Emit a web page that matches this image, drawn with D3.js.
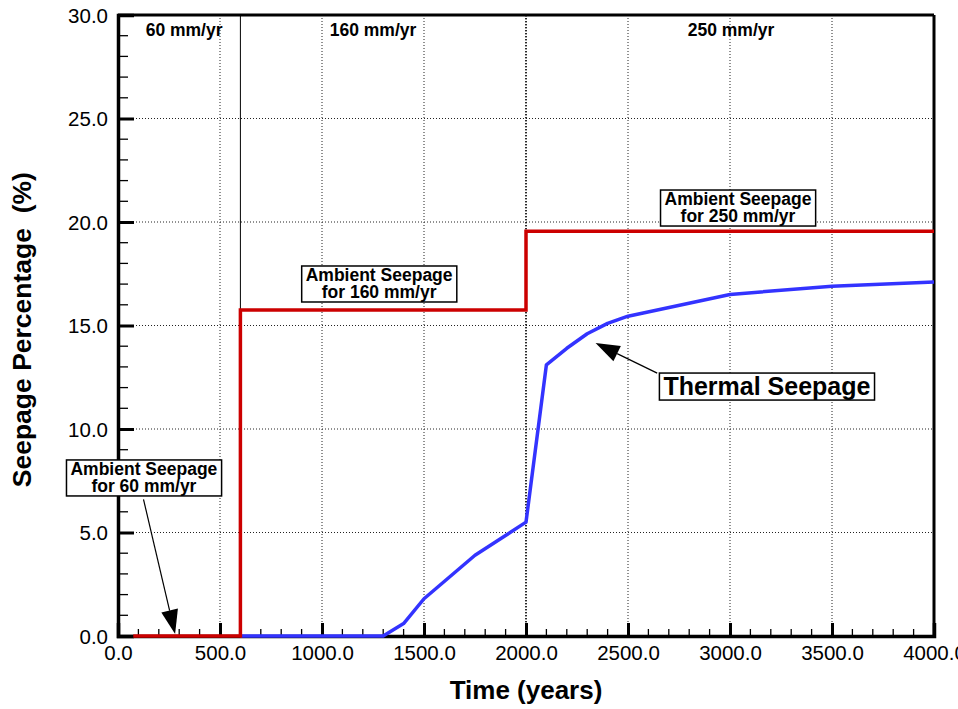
<!DOCTYPE html>
<html>
<head>
<meta charset="utf-8">
<script src="https://cdn.jsdelivr.net/npm/d3@7"></script>
<style>
  body { margin: 0; background: #fff; }
  svg { display: block; font-family: "Liberation Sans", Arial, sans-serif; }
  .tick-label { font-size: 20.5px; fill: #000; }
  .axis-title { font-weight: bold; white-space: pre; }
  .note { font-weight: bold; fill: #000; }
</style>
</head>
<body>
<div id="chart"></div>
<script>
// Data
const ambientTime = [75, 600, 600, 2000, 2000, 4000];
const ambientSeep = [0, 0, 15.75, 15.75, 19.55, 19.55];

const thermalTime = [600, 1300, 1400, 1500, 1750, 2000, 2100, 2200, 2300, 2400, 2500, 3000, 3500, 4000];
const thermalSeep = [0, 0, 0.6, 1.8, 3.9, 5.5, 13.1, 13.9, 14.6, 15.1, 15.45, 16.5, 16.9, 17.1];

const xTicks = [0, 500, 1000, 1500, 2000, 2500, 3000, 3500, 4000];
const yTicks = [0, 5, 10, 15, 20, 25, 30];

const regionNames = ["60 mm/yr", "160 mm/yr", "250 mm/yr"];
const regionCenters = [324, 1250, 3005];
const regionBreaks = [600, 2000];

const width = 958, height = 709;
const margin = { top: 15, right: 24, bottom: 73, left: 118 };
const iw = width - margin.left - margin.right;
const ih = height - margin.top - margin.bottom;

const svg = d3.select("#chart").append("svg")
    .attr("width", width)
    .attr("height", height);

const g = svg.append("g").attr("transform", `translate(${margin.left},${margin.top})`);

const x = d3.scaleLinear().domain([0, 4000]).range([0, iw]);
const y = d3.scaleLinear().domain([0, 30]).range([ih, 0]);

// dotted grid
g.append("g").selectAll("line.vg")
    .data(xTicks.slice(1))
    .join("line")
    .attr("x1", d => x(d)).attr("x2", d => x(d))
    .attr("y1", 0).attr("y2", ih)
    .attr("stroke", "#222").attr("stroke-width", 1)
    .attr("stroke-dasharray", "1,2");

g.append("g").selectAll("line.hg")
    .data(yTicks.slice(1))
    .join("line")
    .attr("x1", 0).attr("x2", iw)
    .attr("y1", d => y(d)).attr("y2", d => y(d))
    .attr("stroke", "#222").attr("stroke-width", 1)
    .attr("stroke-dasharray", "1,2");

// region dividers
g.append("line")
    .attr("x1", x(regionBreaks[0])).attr("x2", x(regionBreaks[0]))
    .attr("y1", 0).attr("y2", ih)
    .attr("stroke", "#000").attr("stroke-width", 1);
g.append("line")
    .attr("x1", x(regionBreaks[1])).attr("x2", x(regionBreaks[1]))
    .attr("y1", 0).attr("y2", ih)
    .attr("stroke", "#000").attr("stroke-width", 1.4)
    .attr("stroke-dasharray", "1.5,1.5");

// region labels
g.append("g").selectAll("text")
    .data(regionNames)
    .join("text")
    .attr("class", "note")
    .attr("x", (d, i) => x(regionCenters[i]))
    .attr("y", y(29))
    .attr("text-anchor", "middle")
    .style("font-size", "17.5px")
    .text(d => d);

// frame top/right
g.append("line").attr("x1", 0).attr("x2", iw).attr("y1", 0).attr("y2", 0)
    .attr("stroke", "#000").attr("stroke-width", 3);
g.append("line").attr("x1", iw).attr("x2", iw).attr("y1", 0).attr("y2", ih)
    .attr("stroke", "#000").attr("stroke-width", 3);

// axes: ticks point inward
const xAxis = d3.axisBottom(x).tickValues(xTicks).tickSize(-13).tickPadding(9)
    .tickFormat(d3.format(".1f"));
const yAxis = d3.axisLeft(y).tickValues(yTicks).tickSize(-16).tickPadding(10)
    .tickFormat(d3.format(".1f"));

const xMinor = d3.range(100, 4000, 100).filter(v => v % 500 !== 0);
const yMinor = d3.range(1, 30, 1).filter(v => v % 5 !== 0);

g.append("g").selectAll("line")
    .data(xMinor).join("line")
    .attr("x1", d => x(d)).attr("x2", d => x(d))
    .attr("y1", ih).attr("y2", ih - 7)
    .attr("stroke", "#000").attr("stroke-width", 1.3);
g.append("g").selectAll("line")
    .data(yMinor).join("line")
    .attr("x1", 0).attr("x2", 10)
    .attr("y1", d => y(d)).attr("y2", d => y(d))
    .attr("stroke", "#000").attr("stroke-width", 1.3);

const gx = g.append("g").attr("transform", `translate(0,${ih})`).call(xAxis);
const gy = g.append("g").call(yAxis);
[gx, gy].forEach(a => {
    a.select(".domain").attr("stroke-width", 3.5);
    a.selectAll(".tick line").attr("stroke-width", 3);
    a.selectAll(".tick text").attr("class", "tick-label")
        .attr("font-family", null).attr("font-size", null);
});
gy.selectAll(".tick text").attr("dy", "0.36em");
gx.selectAll(".tick text").attr("dy", "0.72em");

// series
const line = d3.line().x(d => x(d[0])).y(d => y(d[1]));

g.append("path")
    .datum(thermalTime.map((t, i) => [t, thermalSeep[i]]))
    .attr("d", line)
    .attr("fill", "none")
    .attr("stroke", "#3333ff")
    .attr("stroke-width", 3.5)
    .attr("stroke-linejoin", "round");

g.append("path")
    .datum(ambientTime.map((t, i) => [t, ambientSeep[i]]))
    .attr("d", line)
    .attr("fill", "none")
    .attr("stroke", "#cc0000")
    .attr("stroke-width", 3.5);

// axis titles
svg.append("text")
    .attr("class", "axis-title")
    .style("font-size", "26px")
    .attr("x", margin.left + x(2000))
    .attr("y", 699)
    .attr("text-anchor", "middle")
    .text("Time (years)");

svg.append("text")
    .attr("class", "axis-title")
    .style("font-size", "26.5px")
    .attr("transform", `translate(31,${margin.top + y(14.8)}) rotate(-90)`)
    .attr("text-anchor", "middle")
    .text("Seepage Percentage  (%)");

// annotations
const notes = [
    { lines: ["Ambient Seepage", "for 60 mm/yr"], t: 127, v: 7.78, size: 17.5, lh: 17 },
    { lines: ["Ambient Seepage", "for 160 mm/yr"], t: 1280, v: 17.15, size: 17.5, lh: 17 },
    { lines: ["Ambient Seepage", "for 250 mm/yr"], t: 3039, v: 20.82, size: 17.5, lh: 17 },
    { lines: ["Thermal Seepage"], t: 3181, v: 11.64, size: 25, lh: 25 }
];
const arrows = [
    { from: [125, 6.6], to: [280, 0.1] },
    { from: [2643, 12.7], to: [2341, 14.15] }
];

notes.forEach(n => {
    const ng = g.append("g");
    const rect = ng.append("rect").attr("fill", "#fff").attr("stroke", "#000").attr("stroke-width", 1.5);
    const txt = ng.append("text").attr("class", "note")
        .attr("text-anchor", "middle")
        .style("font-size", n.size + "px");
    n.lines.forEach((l, i) => {
        txt.append("tspan").attr("x", x(n.t)).attr("y", y(n.v) + i * n.lh).text(l);
    });
    const bb = txt.node().getBBox();
    rect.attr("x", bb.x - 4).attr("y", bb.y + 1)
        .attr("width", bb.width + 8).attr("height", bb.height - 1);
});

arrows.forEach(a => {
    const x1 = x(a.from[0]), y1 = y(a.from[1]);
    const x2 = x(a.to[0]), y2 = y(a.to[1]);
    const ang = Math.atan2(y2 - y1, x2 - x1);
    const len = 24, hw = 8.5;
    const bx = x2 - len * Math.cos(ang), by = y2 - len * Math.sin(ang);
    g.append("line").attr("x1", x1).attr("y1", y1).attr("x2", bx).attr("y2", by)
        .attr("stroke", "#000").attr("stroke-width", 1.2);
    const pts = [
        [x2, y2],
        [bx + hw * Math.sin(ang), by - hw * Math.cos(ang)],
        [bx - hw * Math.sin(ang), by + hw * Math.cos(ang)]
    ];
    g.append("path").attr("d", "M" + pts.join("L") + "Z").attr("fill", "#000");
});
</script>
</body>
</html>
